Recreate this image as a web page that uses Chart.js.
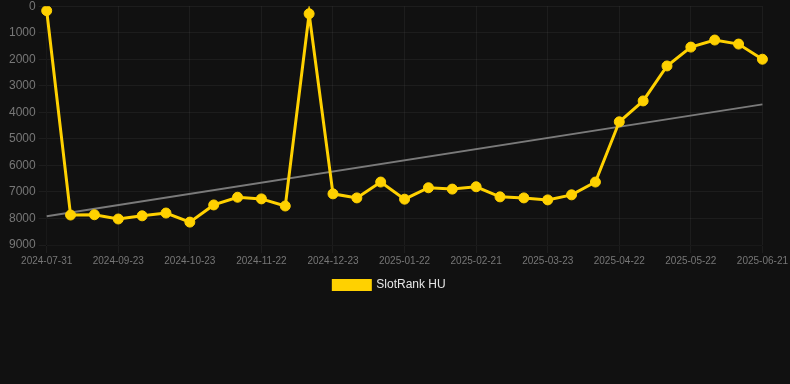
<!DOCTYPE html>
<html>
<head>
<meta charset="utf-8">
<script src="https://cdn.jsdelivr.net/npm/chart.js@4"></script>
<style>
  html, body { margin: 0; padding: 0; background: #111111; overflow: hidden; }
  #wrap { width: 790px; height: 305px; position: relative; margin-top: -4px; }
</style>
</head>
<body>
<div id="wrap"><canvas id="c"></canvas></div>
<script>
const categories = [
  "2024-07-31","2024-08-18","2024-09-05","2024-09-23","2024-10-03","2024-10-13",
  "2024-10-23","2024-11-02","2024-11-12","2024-11-22","2024-12-02","2024-12-12",
  "2024-12-23","2025-01-02","2025-01-12","2025-01-22","2025-02-01","2025-02-11",
  "2025-02-21","2025-03-03","2025-03-13","2025-03-23","2025-04-02","2025-04-12",
  "2025-04-22","2025-05-02","2025-05-12","2025-05-22","2025-06-01","2025-06-11",
  "2025-06-21"
];
const rankValues = [
  170, 7870, 7860, 8020, 7900, 7795,
  8137, 7490, 7200, 7262, 7530, 285,
  7072, 7225, 6627, 7273, 6843, 6893,
  6805, 7186, 7225, 7300, 7110, 6627,
  4357, 3570, 2252, 1541, 1275, 1427,
  1998
];
// trend line: only its two end points
const trendStart = 7920;
const trendEnd = 3700;
const trendValues = categories.map((c, i) => i === 0 ? trendStart : (i === categories.length - 1 ? trendEnd : null));
const yTicks = { min: 0, max: 9000, step: 1000 };
const seriesName = "SlotRank HU";

new Chart(document.getElementById('c'), {
  type: 'line',
  data: {
    labels: categories,
    datasets: [
      {
        label: seriesName,
        data: rankValues,
        borderColor: '#FFD100',
        backgroundColor: '#FFD100',
        borderWidth: 3,
        pointRadius: 5,
        pointBorderWidth: 1,
        pointBackgroundColor: '#FFD100',
        pointBorderColor: '#FFD100',
        tension: 0,
        order: 1
      },
      {
        label: 'trend',
        data: trendValues,
        borderColor: '#7a7a7a',
        backgroundColor: '#7a7a7a',
        borderWidth: 2,
        pointRadius: 0,
        spanGaps: true,
        order: 2
      }
    ]
  },
  options: {
    responsive: true,
    maintainAspectRatio: false,
    animation: false,
    layout: { padding: { left: 6, right: 17, top: 0, bottom: 0 } },
    plugins: {
      legend: {
        position: 'bottom',
        labels: {
          color: '#e6e6e6',
          font: { size: 12 },
          boxWidth: 37,
          boxHeight: 9,
          filter: (item) => item.text === seriesName
        }
      },
      tooltip: { enabled: false }
    },
    scales: {
      x: {
        grid: { color: 'rgba(255,255,255,0.05)' },
        ticks: { color: '#777777', font: { size: 10 }, maxRotation: 0, autoSkip: true, padding: 2 }
      },
      y: {
        reverse: true,
        min: yTicks.min,
        max: yTicks.max,
        grid: { color: 'rgba(255,255,255,0.05)' },
        ticks: { color: '#777777', font: { size: 12 }, stepSize: yTicks.step, callback: (v) => String(v) }
      }
    }
  }
});
</script>
</body>
</html>
